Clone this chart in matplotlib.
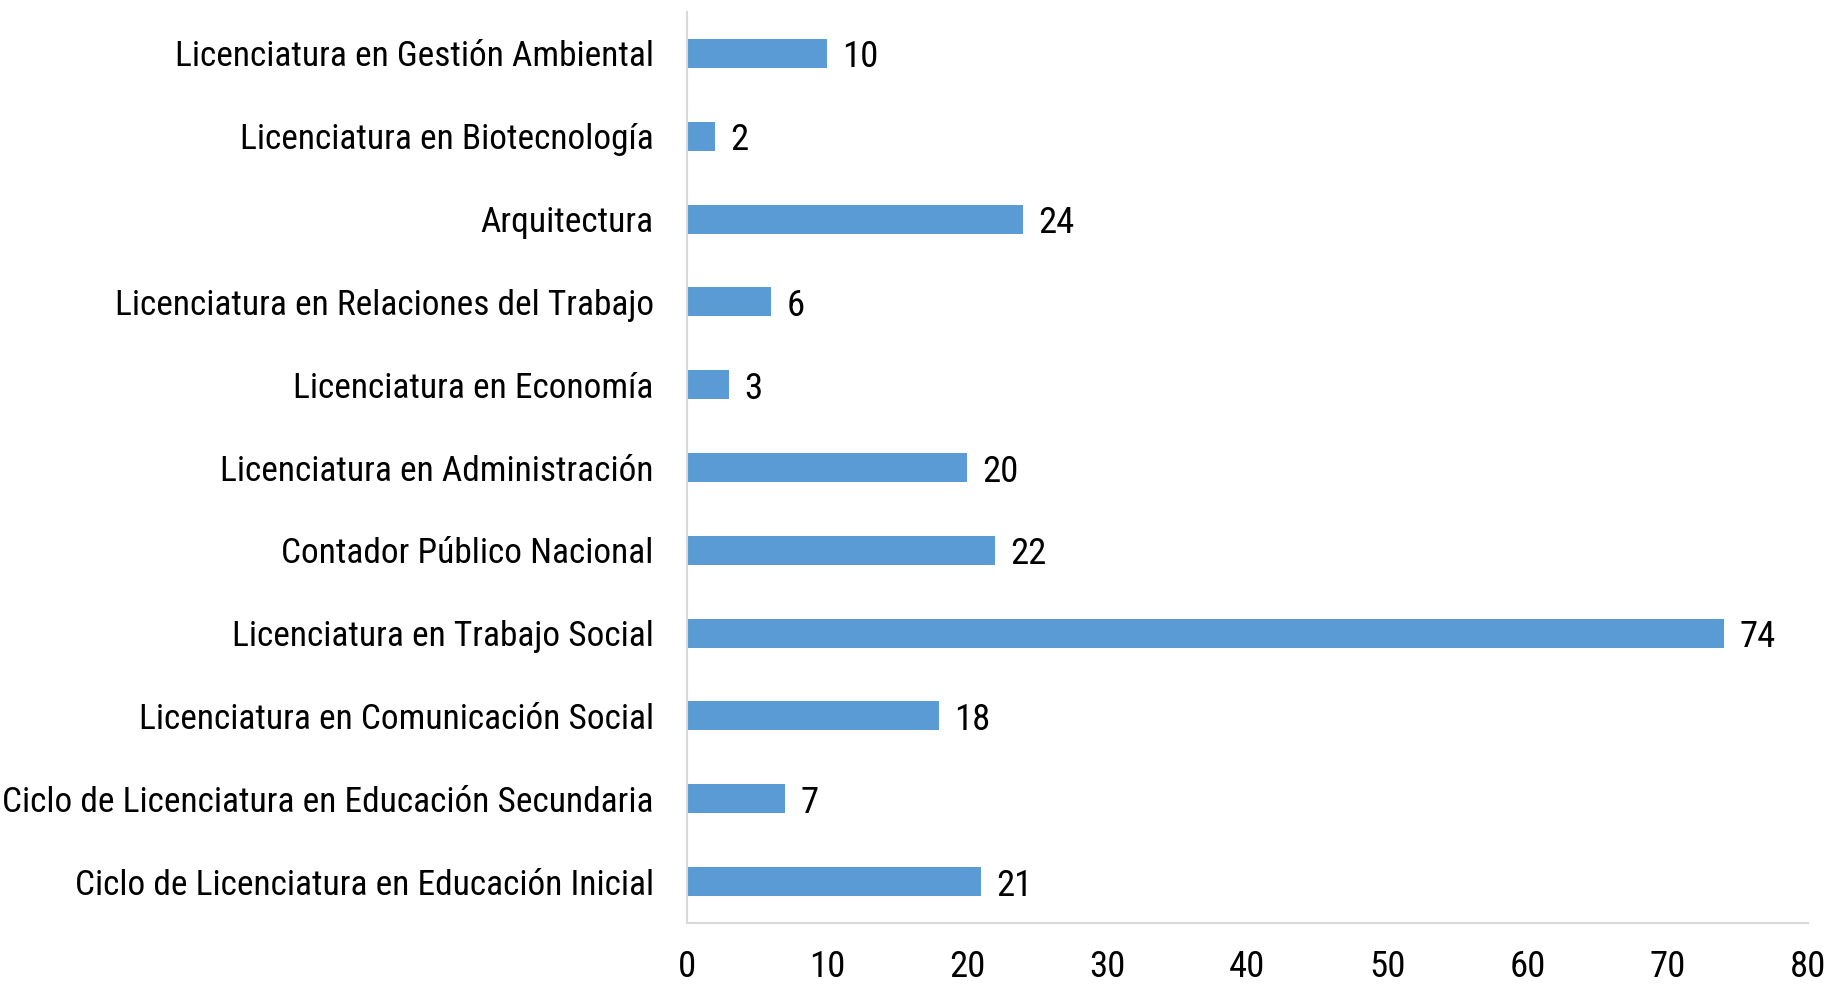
import matplotlib
matplotlib.use("Agg")
import matplotlib.pyplot as plt

# carreras (de abajo hacia arriba)
carreras = [
    "Ciclo de Licenciatura en Educación Inicial",
    "Ciclo de Licenciatura en Educación Secundaria",
    "Licenciatura en Comunicación Social",
    "Licenciatura en Trabajo Social",
    "Contador Público Nacional",
    "Licenciatura en Administración",
    "Licenciatura en Economía",
    "Licenciatura en Relaciones del Trabajo",
    "Arquitectura",
    "Licenciatura en Biotecnología",
    "Licenciatura en Gestión Ambiental",
]
cantidades = [21, 7, 18, 74, 22, 20, 3, 6, 24, 2, 10]
xticks = [0, 10, 20, 30, 40, 50, 60, 70, 80]

plt.rcParams['font.family'] = ['Roboto Condensed', 'DejaVu Sans']

fig = plt.figure(figsize=(18.29, 9.85), dpi=100)
ax = fig.add_axes([0.3756, 0.0629, 0.6129, 0.9249])

pos = list(range(len(carreras)))
ax.barh(pos, cantidades, height=0.35, color='#5B9BD5')

for y, v in zip(pos, cantidades):
    ax.text(v + 1.1, y, str(v), va='center_baseline', ha='left', fontsize=26.5, color='black')

ax.set_xlim(0, 80)
ax.set_ylim(-0.5, 10.5)
ax.set_yticks(pos)
ax.set_yticklabels(carreras, fontsize=25.5)
ax.set_xticks(xticks)
ax.set_xticklabels([str(t) for t in xticks], fontsize=26.5)
ax.tick_params(axis='both', length=0)
ax.tick_params(axis='y', pad=24)
ax.tick_params(axis='x', pad=19)

for s in ['top', 'right']:
    ax.spines[s].set_visible(False)
for s in ['left', 'bottom']:
    ax.spines[s].set_color('#D9D9D9')
    ax.spines[s].set_linewidth(1.5)

fig.savefig('out.png', dpi=100)
